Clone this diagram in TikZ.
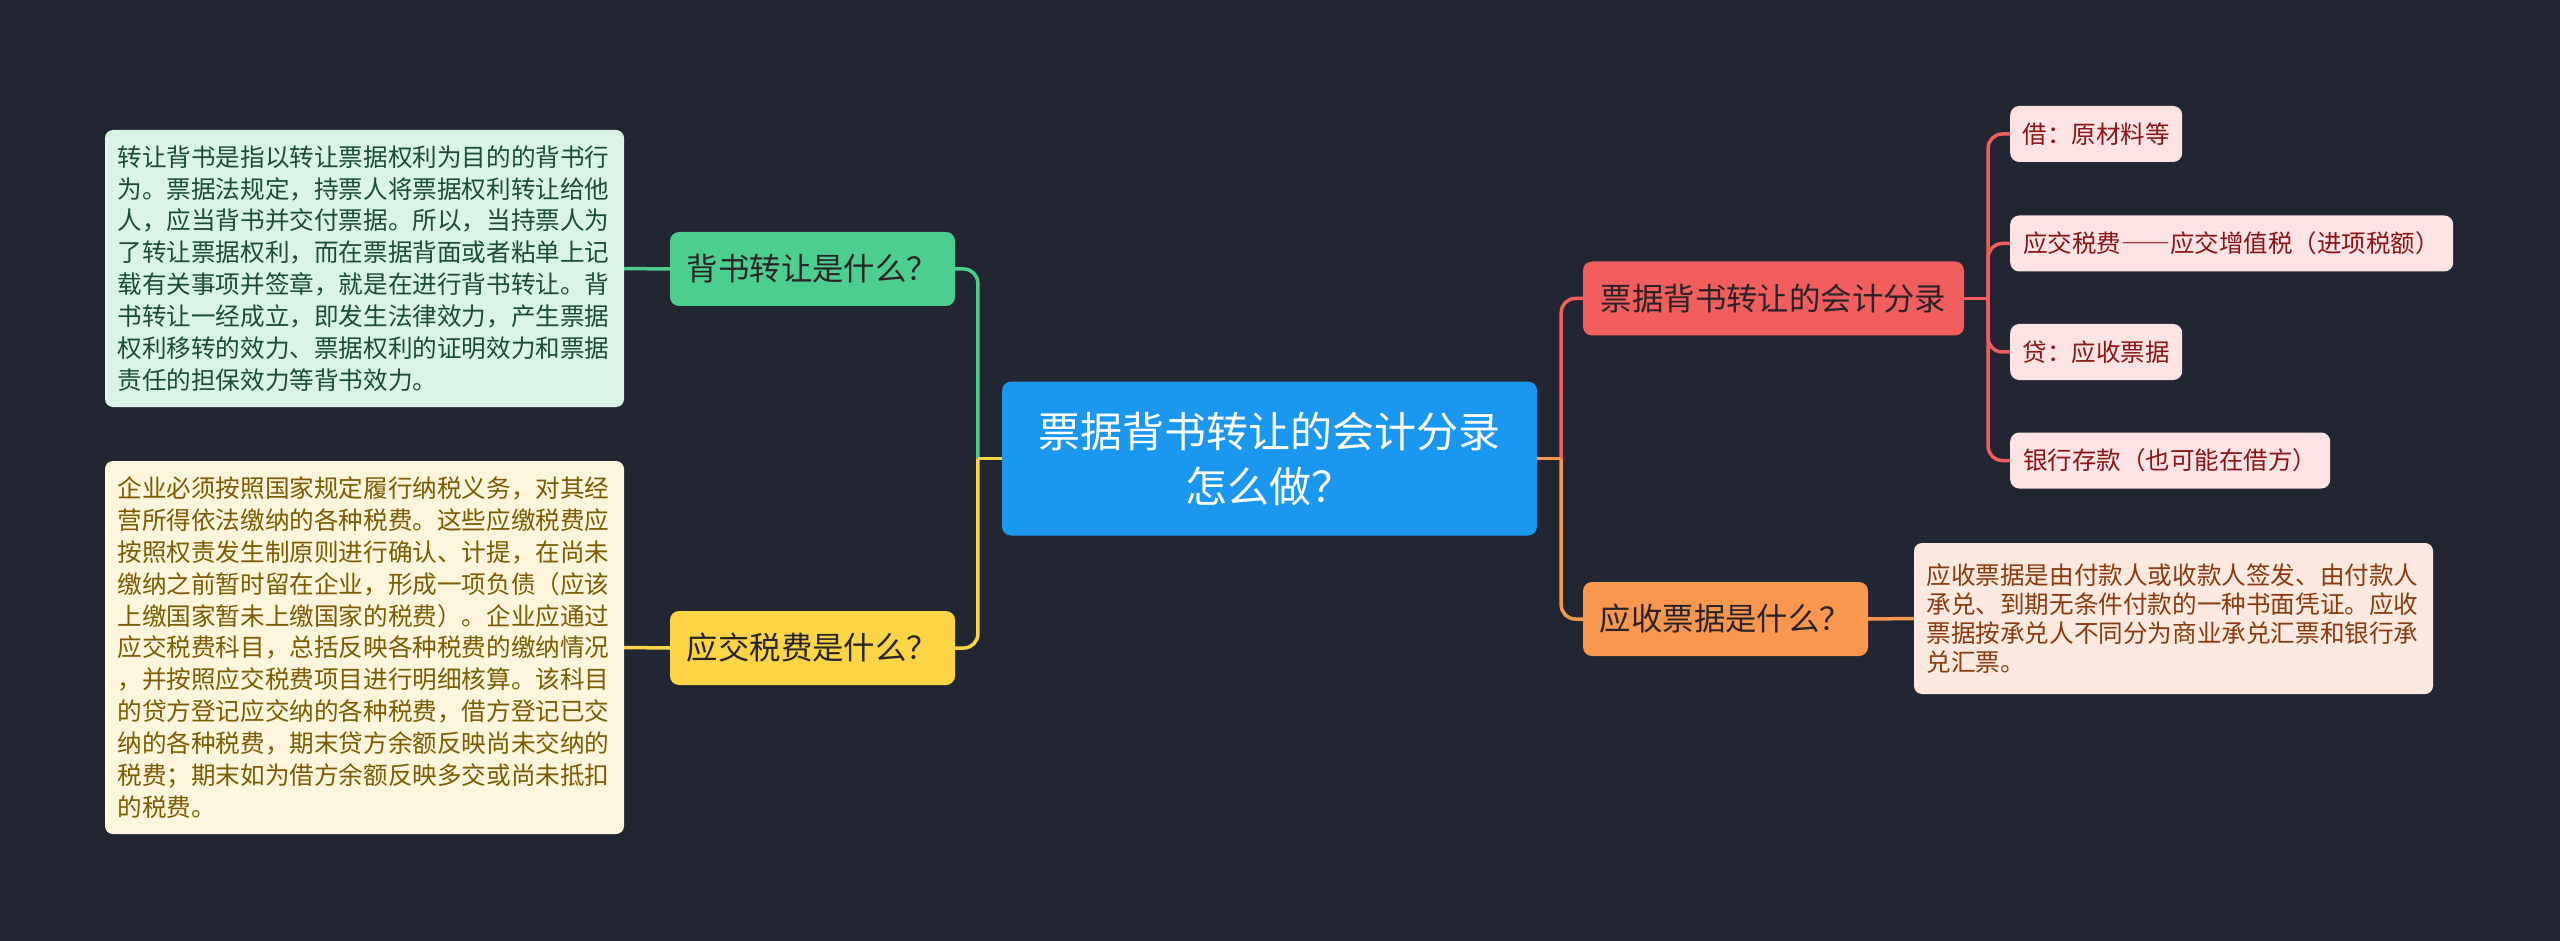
\documentclass[tikz,border=0pt]{standalone}
\usepackage{fontspec}
\setmainfont{Noto Sans CJK SC}
\definecolor{bg}{HTML}{222532}
\definecolor{cblue}{HTML}{1A97EE}
\definecolor{cgreen}{HTML}{4CCF8E}
\definecolor{cyellow}{HTML}{FBD545}
\definecolor{cred}{HTML}{F25E5E}
\definecolor{corange}{HTML}{F9974E}
\definecolor{gnote}{HTML}{DAF5E8}
\definecolor{gnotetx}{HTML}{1B4D33}
\definecolor{ynote}{HTML}{FDF6DC}
\definecolor{ynotetx}{HTML}{7D5B00}
\definecolor{pleaf}{HTML}{FDE3E3}
\definecolor{pleaftx}{HTML}{8C1414}
\definecolor{onote}{HTML}{FDE9DF}
\definecolor{onotetx}{HTML}{8B3A0F}
\definecolor{darktx}{HTML}{2A2326}
\tikzset{
  box/.style={rounded corners=9pt, inner sep=0pt, align=center},
  central/.style={box, fill=cblue, text=white, minimum width=535pt, minimum height=154pt,
    font=\fontsize{42}{55}\selectfont},
  topic/.style={box, text=darktx, minimum width=285pt, minimum height=74pt,
    font=\fontsize{31.4}{38}\selectfont},
  leaf/.style={box, fill=pleaf, text=pleaftx, minimum height=56pt, anchor=west,
    inner xsep=12.5pt, font=\fontsize{24.5}{30}\selectfont},
  note/.style={rounded corners=8pt, inner xsep=12.5pt, inner ysep=0pt, align=left,
    text width=494pt, font=\fontsize{24.6}{31.9}\selectfont},
  conn/.style={line width=3.5pt},
  elbow/.style={conn, rounded corners=14pt}
}
\begin{document}
\begin{tikzpicture}[x=1pt,y=-1pt]
\fill[bg] (0,0) rectangle (2560,941);
\useasboundingbox (0,0) rectangle (2560,941);

% nodes
\node[central] (c) at (1269.5,458.5) {票据背书转让的会计分录\\怎么做？};
\node[topic, fill=cgreen] (g) at (812.5,269) {背书转让是什么？};
\node[topic, fill=cyellow] (y) at (812.5,648) {应交税费是什么？};
\node[topic, fill=cred, minimum width=381pt] (r) at (1773.5,298.5) {票据背书转让的会计分录};
\node[topic, fill=corange] (o) at (1725.5,619) {应收票据是什么？};

\node[note, fill=gnote, text=gnotetx, minimum height=277pt] (gt) at (364.5,268.5)
{转让背书是指以转让票据权利为目的的背书行\\为。票据法规定，持票人将票据权利转让给他\\人，应当背书并交付票据。所以，当持票人为\\了转让票据权利，而在票据背面或者粘单上记\\载有关事项并签章，就是在进行背书转让。背\\书转让一经成立，即发生法律效力，产生票据\\权利移转的效力、票据权利的证明效力和票据\\责任的担保效力等背书效力。};

\node[note, fill=ynote, text=ynotetx, minimum height=373pt] (yt) at (364.5,647.5)
{企业必须按照国家规定履行纳税义务，对其经\\营所得依法缴纳的各种税费。这些应缴税费应\\按照权责发生制原则进行确认、计提，在尚未\\缴纳之前暂时留在企业，形成一项负债（应该\\上缴国家暂未上缴国家的税费）。企业应通过\\应交税费科目，总括反映各种税费的缴纳情况\\，并按照应交税费项目进行明细核算。该科目\\的贷方登记应交纳的各种税费，借方登记已交\\纳的各种税费，期末贷方余额反映尚未交纳的\\税费；期末如为借方余额反映多交或尚未抵扣\\的税费。};

\node[note, fill=onote, text=onotetx, minimum height=151pt,
  font=\fontsize{24.6}{29}\selectfont] (ot) at (2173.5,618.5)
{应收票据是由付款人或收款人签发、由付款人\\承兑、到期无条件付款的一种书面凭证。应收\\票据按承兑人不同分为商业承兑汇票和银行承\\兑汇票。};

\node[leaf, minimum width=172pt] (l1) at (2010,134) {借：原材料等};
\node[leaf, minimum width=443pt] (l2) at (2010,243.5) {应交税费{\addfontfeature{RawFeature=+fwid}——}应交增值税（进项税额）};
\node[leaf, minimum width=172pt] (l3) at (2010,352) {贷：应收票据};
\node[leaf, minimum width=320pt] (l4) at (2010,460.5) {银行存款（也可能在借方）};

% junctions
\coordinate (jl) at ([xshift=-24pt]c.west);
\coordinate (jr) at ([xshift=24pt]c.east);
\coordinate (jrr) at ([xshift=24pt]r.east);

% connectors left
\draw[elbow, cgreen] (jl) |- (g.east);
\draw[elbow, cyellow] (jl) |- (y.east);
\draw[conn, cyellow] (c.west) -- (jl);
\draw[conn, cgreen] (g.west) -- (gt.east);
\draw[conn, cyellow] (y.west) -- (yt.east);

% connectors right
\draw[elbow, cred] (jr) |- (r.west);
\draw[elbow, corange] (jr) |- (o.west);
\draw[conn, corange] (c.east) -- (jr);
\draw[conn, corange] (o.east) -- (ot.west);

\draw[conn, cred] (r.east) -- (jrr);
\draw[elbow, cred] (jrr) |- (l1.west);
\draw[elbow, cred] (jrr) |- (l2.west);
\draw[elbow, cred] (jrr) |- (l3.west);
\draw[elbow, cred] (jrr) |- (l4.west);
\end{tikzpicture}
\end{document}
